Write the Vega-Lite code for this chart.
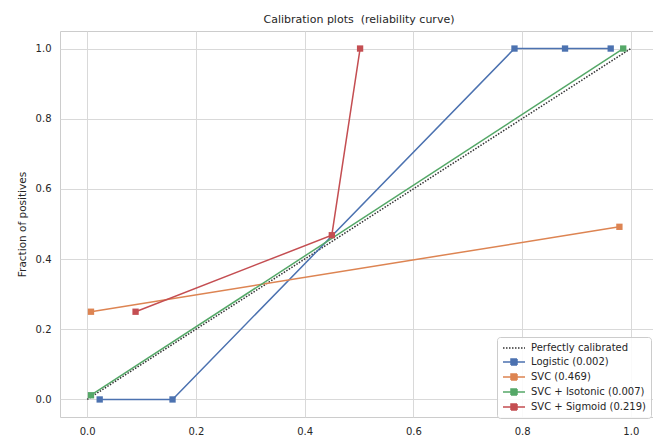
{
  "$schema": "https://vega.github.io/schema/vega-lite/v6.json",
  "width": 598,
  "height": 386,
  "autosize": {"type": "none"},
  "padding": {"left": 60, "top": 31, "right": 0, "bottom": 24},
  "background": "white",
  "title": {
    "text": "Calibration plots \u00a0(reliability curve)",
    "fontSize": 11,
    "font": "DejaVu Sans",
    "fontWeight": "normal",
    "color": "#262626",
    "offset": 6,
    "anchor": "middle"
  },
  "config": {
    "view": {"stroke": "#cccccc", "strokeWidth": 1},
    "axis": {
      "grid": true,
      "gridColor": "#d9d9d9",
      "gridWidth": 1,
      "ticks": false,
      "domain": false,
      "labelFont": "DejaVu Sans",
      "labelFontSize": 10,
      "labelColor": "#262626",
      "labelPadding": 9,
      "titleFont": "DejaVu Sans",
      "titleFontSize": 10.5,
      "titleFontWeight": "normal",
      "titleColor": "#262626"
    },
    "legend": {
      "labelFont": "DejaVu Sans",
      "labelFontSize": 10,
      "labelColor": "#262626"
    }
  },
  "data": {
    "values": [
      {"series": "Perfectly calibrated", "x": 0, "y": 0},
      {"series": "Perfectly calibrated", "x": 1, "y": 1},
      {"series": "Logistic (0.002)", "x": 0.023, "y": 0.0},
      {"series": "Logistic (0.002)", "x": 0.157, "y": 0.0},
      {"series": "Logistic (0.002)", "x": 0.786, "y": 1.0},
      {"series": "Logistic (0.002)", "x": 0.879, "y": 1.0},
      {"series": "Logistic (0.002)", "x": 0.963, "y": 1.0},
      {"series": "SVC (0.469)", "x": 0.007, "y": 0.25},
      {"series": "SVC (0.469)", "x": 0.979, "y": 0.492},
      {"series": "SVC + Isotonic (0.007)", "x": 0.007, "y": 0.012},
      {"series": "SVC + Isotonic (0.007)", "x": 0.986, "y": 1.0},
      {"series": "SVC + Sigmoid (0.219)", "x": 0.089, "y": 0.25},
      {"series": "SVC + Sigmoid (0.219)", "x": 0.45, "y": 0.468},
      {"series": "SVC + Sigmoid (0.219)", "x": 0.502, "y": 1.0}
    ]
  },
  "encoding": {
    "x": {
      "field": "x", "type": "quantitative",
      "scale": {"domain": [-0.05, 1.05], "nice": false, "zero": false},
      "axis": {"values": [0, 0.2, 0.4, 0.6, 0.8, 1.0], "format": ".1f", "title": null}
    },
    "y": {
      "field": "y", "type": "quantitative",
      "scale": {"domain": [-0.05, 1.05], "nice": false, "zero": false},
      "axis": {"values": [0, 0.2, 0.4, 0.6, 0.8, 1.0], "format": ".1f", "title": "Fraction of positives", "titlePadding": 8}
    },
    "color": {
      "field": "series", "type": "nominal",
      "scale": {
        "domain": ["Perfectly calibrated", "Logistic (0.002)", "SVC (0.469)", "SVC + Isotonic (0.007)", "SVC + Sigmoid (0.219)"],
        "range": ["#333333", "#4C72B0", "#DD8452", "#55A868", "#C44E52"]
      },
      "legend": {
        "title": null,
        "orient": "none",
        "legendX": 437,
        "legendY": 306,
        "fillColor": "rgba(255,255,255,0.85)",
        "strokeColor": "#cccccc",
        "cornerRadius": 3,
        "padding": 5,
        "rowPadding": 3,
        "symbolSize": 100,
        "symbolOffset": 6,
        "symbolStrokeWidth": 1.5,
        "labelOffset": 11,
        "encode": {
          "symbols": {
            "update": {
              "shape": {"signal": "datum.value === 'Perfectly calibrated' ? 'M-2.2,0H2.2' : 'M-2.2,0H2.2M-0.6,-0.6H0.6V0.6H-0.6Z'"},
              "fill": {"signal": "datum.value === 'Perfectly calibrated' ? 'transparent' : scale('color', datum.value)"},
              "stroke": {"signal": "scale('color', datum.value)"},
              "strokeDash": {"signal": "datum.value === 'Perfectly calibrated' ? [1.5, 1.5] : [1, 0]"},
              "opacity": {"value": 1}
            }
          }
        }
      }
    }
  },
  "layer": [
    {
      "transform": [{"filter": "datum.series === 'Perfectly calibrated'"}],
      "mark": {"type": "line", "strokeWidth": 1.5, "strokeDash": [1.5, 1.5]}
    },
    {
      "transform": [{"filter": "datum.series !== 'Perfectly calibrated'"}],
      "mark": {"type": "line", "strokeWidth": 1.5}
    },
    {
      "transform": [{"filter": "datum.series !== 'Perfectly calibrated'"}],
      "mark": {"type": "point", "shape": "square", "filled": true, "size": 40, "opacity": 1}
    }
  ]
}
